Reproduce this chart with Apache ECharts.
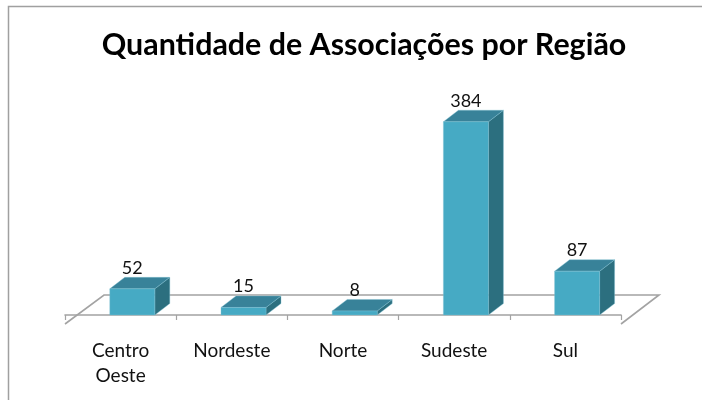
<!DOCTYPE html>
<html>
<head>
<meta charset="utf-8">
<style>
  html, body { margin: 0; padding: 0; background: #fff; }
  #chart { width: 702px; height: 400px; }
</style>
<script src="https://cdn.jsdelivr.net/npm/echarts@6/dist/echarts.min.js"></script>
</head>
<body>
<div id="chart"></div>
<script>
const categories = ['Centro\nOeste', 'Nordeste', 'Norte', 'Sudeste', 'Sul'];
const values = [52, 15, 8, 384, 87];

const chart = echarts.init(document.getElementById('chart'));

// fake 3D depth, in pixels
const depthX = 15;
const depthY = 11.5;
const barWidth = 45;
// bars sit towards the back of the floor, so right of the tick label
const barShift = 11.7;
const lineColor = '#a3a3a3';

function renderFloor(params, api) {
  const band = api.size([1, 0])[0];
  const base = api.coord([0, 0]);
  const left = base[0] - band / 2;
  const right = left + band * categories.length;
  const front = base[1] + 9;
  const back = base[1] - 20;
  return {
    type: 'polyline',
    shape: { points: [[left, front], [left + 39, back], [right + 38, back], [right, front]] },
    style: { fill: 'none', stroke: lineColor, lineWidth: 1.6 },
    silent: true
  };
}

function renderBar(params, api) {
  const p = api.coord([api.value(0), api.value(1)]);
  const base = api.coord([api.value(0), 0]);
  const cx = p[0] + barShift;
  const x0 = cx - barWidth / 2;
  const x1 = cx + barWidth / 2;
  const y0 = p[1];
  const y1 = base[1];
  const edge = { stroke: '#7dbfd1', lineWidth: 0.4 };
  return {
    type: 'group',
    children: [
      {
        type: 'polygon',
        shape: { points: [[x1, y0], [x1 + depthX, y0 - depthY], [x1 + depthX, y1 - depthY], [x1, y1]] },
        style: { fill: '#2c6f7f', ...edge }
      },
      {
        type: 'polygon',
        shape: { points: [[x0, y0], [x0 + depthX, y0 - depthY], [x1 + depthX, y0 - depthY], [x1, y0]] },
        style: { fill: '#388299', ...edge }
      },
      {
        type: 'rect',
        shape: { x: x0, y: y0, width: barWidth, height: y1 - y0 },
        style: { fill: '#46aac4', ...edge }
      },
      {
        type: 'text',
        style: {
          x: cx,
          y: y0 - depthY - 0.5,
          text: String(api.value(1)),
          fill: '#111',
          font: '18px Lato',
          align: 'center',
          verticalAlign: 'bottom'
        }
      }
    ]
  };
}

const option = {
  animation: false,
  backgroundColor: '#fff',
  title: {
    text: 'Quantidade de Associações por Região',
    left: 359,
    top: 25,
    textAlign: 'center',
    textStyle: { fontFamily: 'Lato', fontWeight: 'bold', fontSize: 30.4, color: '#000' }
  },
  graphic: [{
    type: 'polyline',
    shape: { points: [[8.5, 400], [8.5, 6.5], [702, 6.5]] },
    style: { fill: 'none', stroke: '#a0a0a0', lineWidth: 1.5 },
    silent: true
  }],
  grid: { left: 65, width: 556, top: 113.7, height: 201.3 },
  xAxis: {
    type: 'category',
    data: categories,
    offset: 9,
    axisLine: { lineStyle: { color: lineColor, width: 1.6 } },
    axisTick: { show: true, length: 5, lineStyle: { color: lineColor, width: 1.2 } },
    axisLabel: { fontFamily: 'Lato', fontSize: 19, color: '#111', lineHeight: 25, margin: 14 }
  },
  yAxis: {
    type: 'value',
    min: 0,
    max: 400,
    show: false
  },
  series: [
    {
      type: 'custom',
      renderItem: renderFloor,
      data: [[0, 0]],
      z: 1,
      silent: true
    },
    {
      type: 'custom',
      renderItem: renderBar,
      data: values.map((v, i) => [i, v]),
      encode: { x: 0, y: 1 },
      z: 2
    }
  ]
};

chart.setOption(option);
</script>
</body>
</html>
